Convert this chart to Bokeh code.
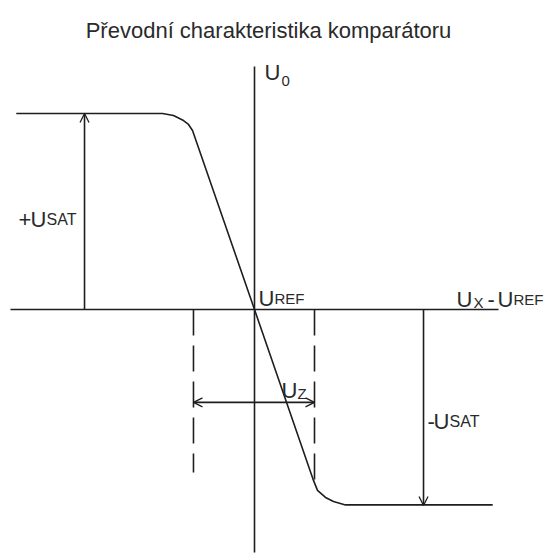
from bokeh.plotting import figure
from bokeh.models import Range1d, Arrow, OpenHead
from bokeh.core.properties import value
from bokeh.embed import file_html
from bokeh.resources import INLINE

# ---- data (units: x in multiples of U_Z/2, y in multiples of U_SAT) ----
U_SAT = 1.0
UZ_LEFT = -1.017
UZ_RIGHT = 1.0
AXIS_X = [-4.067, 4.067]
AXIS_Y = [1.24, -1.24]
SAT_ARROW_POS_X = -2.833
SAT_ARROW_NEG_X = 2.817
UZ_ARROW_Y = -0.474
LEFT_DASH_END = -0.832
RIGHT_DASH_END = -0.888

curve_x = [-3.97, -1.533, -1.35, -1.183, -1.10, -1.033, 0.0, 0.983, 1.05, 1.183, 1.317, 1.517, 3.97]
curve_y = [1.0, 1.0, 0.99, 0.964, 0.944, 0.913, 0.0, -0.872, -0.923, -0.959, -0.98, -0.997, -0.997]

# ---- figure ----
W, H = 545, 557
SX, SY = 60.0, 196.0          # px per unit
CX, CY = 254, 309              # origin position inside figure
x0 = -CX / SX
x1 = x0 + W / SX
y1 = CY / SY
y0 = y1 - H / SY

p = figure(width=W, height=H, output_backend="svg", toolbar_location=None,
           x_range=Range1d(x0, x1), y_range=Range1d(y0, y1),
           x_axis_type=None, y_axis_type=None, min_border=0,
           outline_line_color=None, background_fill_color="white",
           border_fill_color="white")
p.grid.visible = False

LC = "#1e1e1e"
LW = 1.6

def px(X):
    return (X - CX) / SX

def py(Y):
    return (CY - Y) / SY

# axes
p.line(AXIS_X, [0, 0], line_color=LC, line_width=LW)
p.line([0, 0], AXIS_Y, line_color=LC, line_width=LW)

# transfer characteristic
p.line(curve_x, curve_y, line_color=LC, line_width=LW)

# dashed limits
p.line([UZ_LEFT, UZ_LEFT], [0, LEFT_DASH_END], line_color=LC, line_width=LW, line_dash="26 10")
p.line([UZ_RIGHT, UZ_RIGHT], [0, RIGHT_DASH_END], line_color=LC, line_width=LW, line_dash="26 10")

# arrows
p.add_layout(Arrow(end=OpenHead(size=9, line_width=1.3, line_color=LC),
                   x_start=SAT_ARROW_POS_X, y_start=0, x_end=SAT_ARROW_POS_X, y_end=U_SAT,
                   line_color=LC, line_width=LW))
p.add_layout(Arrow(end=OpenHead(size=9, line_width=1.3, line_color=LC),
                   x_start=SAT_ARROW_NEG_X, y_start=0, x_end=SAT_ARROW_NEG_X, y_end=-U_SAT,
                   line_color=LC, line_width=LW))
p.add_layout(Arrow(start=OpenHead(size=9, line_width=1.3, line_color=LC),
                   end=OpenHead(size=9, line_width=1.3, line_color=LC),
                   x_start=UZ_LEFT, y_start=UZ_ARROW_Y, x_end=UZ_RIGHT, y_end=UZ_ARROW_Y,
                   line_color=LC, line_width=LW))

FONT = value("Liberation Sans")
TC = "#2a2a2a"

def txt(s, X, Y, size, align="left"):
    p.text([px(X)], [py(Y)], text=[s], text_font=FONT, text_font_size=f"{size}px",
           text_color=TC, text_align=align, text_baseline="alphabetic")

BIG, SMALL = 22, 15

# title
txt("Převodní charakteristika komparátoru", 268, 30, 22, align="center")

# U0
txt("U", 264, 72, BIG)
txt("0", 281, 80, SMALL)

# +USAT
txt("+", 18, 219, BIG)
txt("U", 30, 219, BIG)
txt("SAT", 46, 219, 16)

# UREF
txt("U", 258, 298, BIG)
txt("REF", 274, 298, SMALL)

# UX - UREF
txt("U", 456, 299, BIG)
txt("X", 473, 302, SMALL)
txt("-", 487, 299, BIG)
txt("U", 497, 299, BIG)
txt("REF", 513, 299, SMALL)

# UZ
txt("U", 281, 390, BIG)
txt("Z", 297, 393, SMALL)

# -USAT
txt("-", 427, 421, BIG)
txt("U", 433, 421, BIG)
txt("SAT", 449, 421, 16)

open("out.html", "w").write(file_html(p, INLINE))
